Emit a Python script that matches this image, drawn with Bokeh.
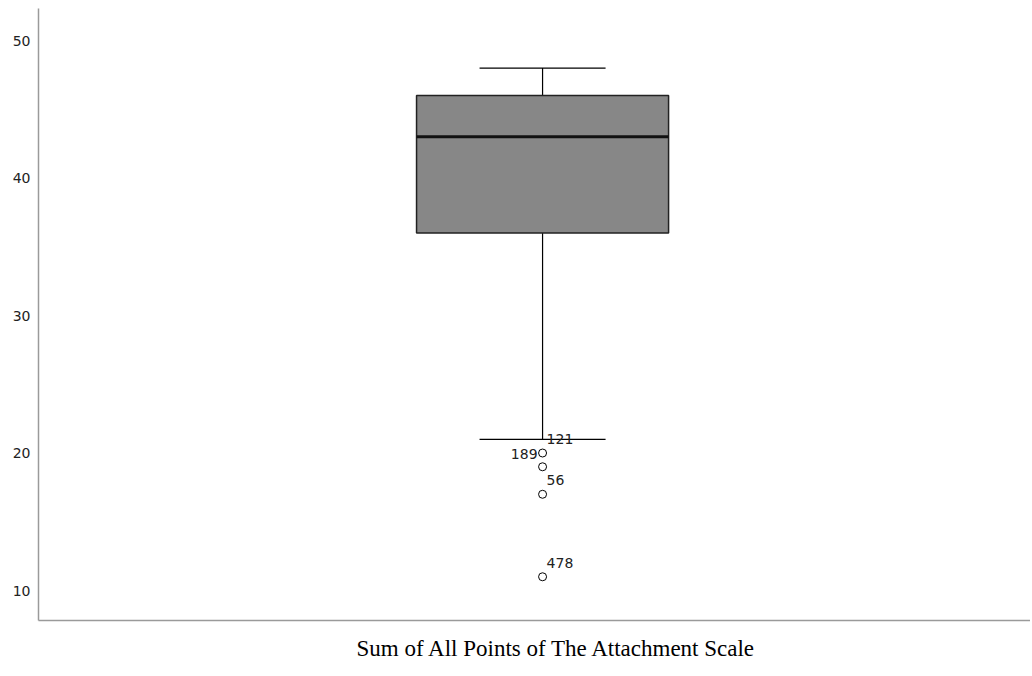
from bokeh.plotting import figure
from bokeh.models import Range1d, FixedTicker, Title, ColumnDataSource
from bokeh.core.properties import value
from bokeh.embed import file_html
from bokeh.resources import INLINE

# Data
variable = "Sum of All Points of The Attachment Scale"
q1, median, q3 = 36, 43, 46
whisker_low, whisker_high = 21, 48
outlier_values = [20, 19, 17, 11]
outlier_ids = ["121", "189", "56", "478"]
y_ticks = [10, 20, 30, 40, 50]

xc = 1.0
box_w = 0.5
cap_w = 0.25

p = figure(width=1030, height=675, output_backend="svg", toolbar_location=None,
           x_range=Range1d(0, 1.968), y_range=Range1d(7.82, 52.33),
           min_border_left=38, min_border_right=0, min_border_top=8, min_border_bottom=55)
p.outline_line_color = None
p.xgrid.visible = False
p.ygrid.visible = False
p.background_fill_color = "white"

# whiskers
p.segment(x0=[xc, xc], y0=[q3, q1], x1=[xc, xc], y1=[whisker_high, whisker_low],
          line_color="black", line_width=1.2)
p.segment(x0=[xc - cap_w / 2] * 2, y0=[whisker_high, whisker_low],
          x1=[xc + cap_w / 2] * 2, y1=[whisker_high, whisker_low],
          line_color="black", line_width=1.2)
# box
p.quad(left=[xc - box_w / 2], right=[xc + box_w / 2], bottom=[q1], top=[q3],
       fill_color="#878787", line_color="#222222", line_width=1.5)
# median
p.segment(x0=[xc - box_w / 2], y0=[median], x1=[xc + box_w / 2], y1=[median],
          line_color="#111111", line_width=3)

# outliers
src = ColumnDataSource(dict(x=[xc] * len(outlier_values), y=outlier_values, id=outlier_ids))
p.scatter("x", "y", source=src, size=8, fill_color="white", line_color="black", line_width=1)

right_idx = [0, 2, 3]
left_idx = [1]
p.text(x=[xc] * len(right_idx), y=[outlier_values[i] for i in right_idx],
       text=[outlier_ids[i] for i in right_idx],
       x_offset=4, y_offset=-14, text_align="left", text_baseline="middle",
       text_font=value("DejaVu Sans"), text_font_size="14px", text_color="#222222")
p.text(x=[xc] * len(left_idx), y=[outlier_values[i] for i in left_idx],
       text=[outlier_ids[i] for i in left_idx],
       x_offset=-5, y_offset=-13, text_align="right", text_baseline="middle",
       text_font=value("DejaVu Sans"), text_font_size="14px", text_color="#222222")

# axes
p.yaxis.ticker = FixedTicker(ticks=y_ticks)
p.yaxis.major_tick_line_color = None
p.yaxis.minor_tick_line_color = None
p.yaxis.axis_line_color = "#9a9a9a"
p.yaxis.axis_line_width = 1.5
p.yaxis.major_label_text_font = "DejaVu Sans"
p.yaxis.major_label_text_font_size = "14px"
p.yaxis.major_label_text_color = "#222222"
p.yaxis.major_label_standoff = 2

p.xaxis.ticker = FixedTicker(ticks=[])
p.xaxis.major_tick_line_color = None
p.xaxis.minor_tick_line_color = None
p.xaxis.axis_line_color = "#9a9a9a"
p.xaxis.axis_line_width = 1.5
p.xaxis.major_label_text_font_size = "0px"

t = Title(text=variable, align="left", offset=318, text_font="Liberation Serif",
          text_font_size="23px", text_font_style="normal", text_color="black",
          standoff=27)
p.add_layout(t, "below")

open("out.html", "w").write(file_html(p, INLINE))
